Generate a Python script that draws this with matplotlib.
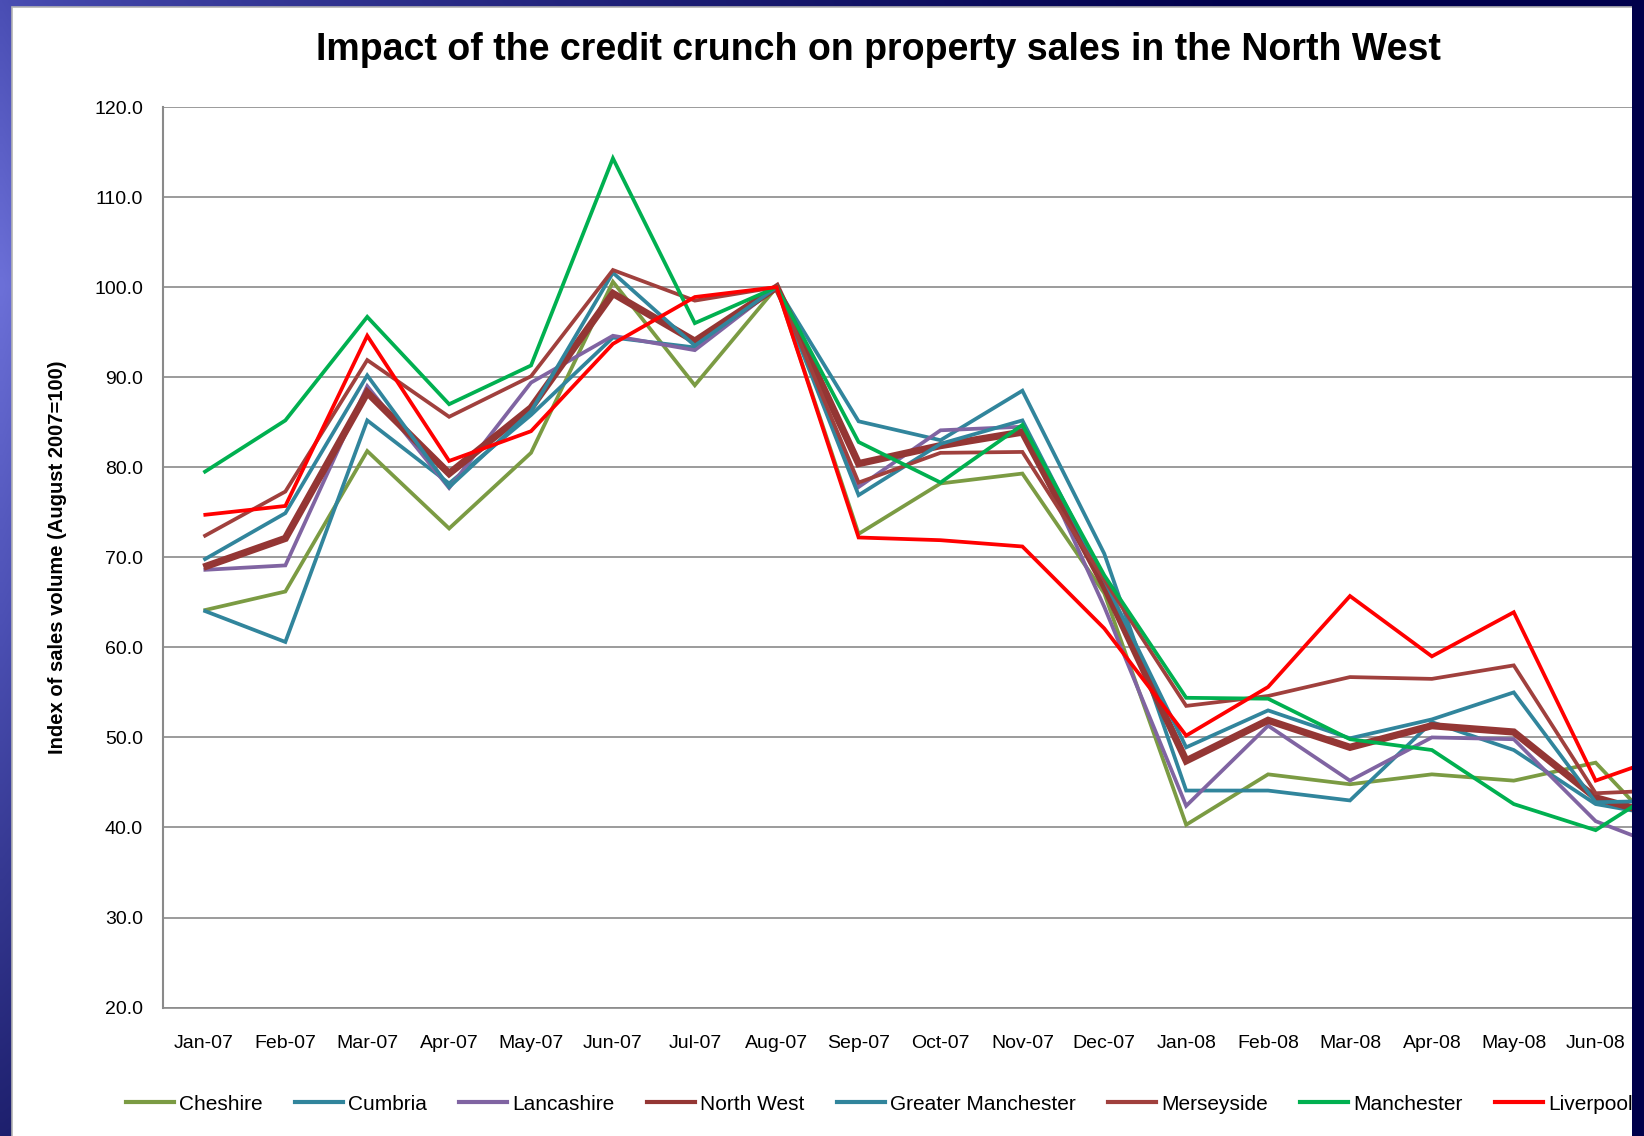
import numpy as np
import matplotlib
matplotlib.use("Agg")
import matplotlib.pyplot as plt
from matplotlib.patches import Rectangle
from matplotlib.lines import Line2D

plt.rcParams['font.family'] = ['Liberation Sans', 'DejaVu Sans']

# ---------------- data ----------------
months = ['Jan-07', 'Feb-07', 'Mar-07', 'Apr-07', 'May-07', 'Jun-07', 'Jul-07',
          'Aug-07', 'Sep-07', 'Oct-07', 'Nov-07', 'Dec-07', 'Jan-08', 'Feb-08',
          'Mar-08', 'Apr-08', 'May-08', 'Jun-08', 'Jul-08']
# the slide cuts the chart just after Jun-08, so only these labels are visible
visible_labels = months[:18]

cheshire = [64.1, 66.2, 81.8, 73.2, 81.6, 100.6, 89.1, 100.0, 72.6, 78.2, 79.3,
            66.0, 40.3, 45.9, 44.8, 45.9, 45.2, 47.2, 37.6]
cumbria = [64.1, 60.6, 85.2, 78.2, 85.8, 94.4, 93.3, 100.0, 85.1, 83.0, 88.5,
           70.4, 44.1, 44.1, 43.0, 51.7, 48.6, 42.6, 41.0]
lancashire = [68.6, 69.1, 89.0, 77.7, 89.4, 94.6, 93.0, 100.0, 77.8, 84.1, 84.5,
              64.5, 42.4, 51.3, 45.2, 50.0, 49.8, 40.7, 37.2]
north_west = [68.9, 72.1, 88.3, 79.3, 86.6, 99.3, 94.0, 100.0, 80.4, 82.4, 83.9,
              66.8, 47.4, 51.9, 48.9, 51.3, 50.6, 43.3, 40.8]
greater_manchester = [69.7, 74.9, 90.2, 77.8, 86.2, 101.6, 93.5, 100.0, 76.9, 82.6,
                      85.2, 67.5, 48.9, 53.0, 49.9, 52.0, 55.0, 42.8, 43.0]
merseyside = [72.3, 77.3, 91.9, 85.6, 90.1, 101.9, 98.5, 100.0, 78.3, 81.6, 81.7,
              67.5, 53.5, 54.6, 56.7, 56.5, 58.0, 43.8, 44.2]
manchester = [79.4, 85.2, 96.7, 87.0, 91.3, 114.3, 96.0, 100.0, 82.8, 78.3, 84.7,
              68.0, 54.4, 54.3, 49.8, 48.6, 42.6, 39.7, 45.5]
liverpool = [74.7, 75.7, 94.6, 80.7, 84.0, 93.7, 98.9, 100.0, 72.2, 71.9, 71.2,
             62.1, 50.2, 55.6, 65.7, 59.0, 63.9, 45.2, 48.4]

series_names = ['Cheshire', 'Cumbria', 'Lancashire', 'North West',
                'Greater Manchester', 'Merseyside', 'Manchester', 'Liverpool']
series_values = [cheshire, cumbria, lancashire, north_west,
                 greater_manchester, merseyside, manchester, liverpool]
series_colors = ['#7B9B43', '#31859C', '#8064A2', '#943634',
                 '#31859C', '#A0403D', '#00B050', '#FF0000']
series_widths = [2.7, 2.7, 2.7, 5.2, 2.7, 2.7, 2.7, 2.7]

yticks = [20, 30, 40, 50, 60, 70, 80, 90, 100, 110, 120]
title = 'Impact of the credit crunch on property sales in the North West'
ylabel = 'Index of sales volume (August 2007=100)'

# ---------------- figure ----------------
W, H = 1644, 1136
fig = plt.figure(figsize=(W / 100, H / 100), dpi=100)

# slide background gradient
bg = fig.add_axes([0, 0, 1, 1], zorder=-10)
bg.axis('off')
Hs, Ws = 228, 330
v = np.linspace(0, 1, Hs)[:, None]
u = np.linspace(0, 1, Ws)[None, :]
stops_v = [0.0, 0.25, 0.55, 1.0]
stops_c = np.array([[0x4a, 0x4e, 0xb4], [0x6c, 0x70, 0xd8],
                    [0x4c, 0x50, 0xb4], [0x1e, 0x20, 0x6e]]) / 255.0
left = np.stack([np.interp(v[:, 0], stops_v, stops_c[:, k]) for k in range(3)], axis=1)
navy = np.array([0x00, 0x00, 0x4c]) / 255.0
t = (np.clip(u / 0.75, 0, 1) ** 0.8)[..., None]
img = left[:, None, :] * (1 - t) + navy[None, None, :] * t
bg.imshow(img, extent=[0, W, H, 0], aspect='auto', interpolation='bilinear')
bg.set_xlim(0, W)
bg.set_ylim(H, 0)
bg.add_patch(Rectangle((12, 7), 1640, H, facecolor='white',
                       edgecolor='#b4b4b4', lw=1.2))

# main chart axes (extends beyond the visible slide edge on the right)
ax = fig.add_axes([162.5 / W, 1 - 1007.6 / H, 1556 / W, 900.6 / H])
ax.patch.set_visible(False)
x = np.arange(len(months))
for vals, col, lw in zip(series_values, series_colors, series_widths):
    ax.plot(x, vals, color=col, lw=lw, solid_joinstyle='miter',
            solid_capstyle='butt')

ax.set_xlim(-0.5, len(months) - 0.5)
ax.set_ylim(20, 120)
ax.set_yticks(yticks)
ax.set_yticklabels([f'{t:.1f}' for t in yticks])
ax.set_xticks(x[:len(visible_labels)])
ax.set_xticklabels(visible_labels)
ax.tick_params(axis='both', length=0, labelsize=14)
ax.tick_params(axis='x', pad=20)
ax.tick_params(axis='y', pad=14)
ax.yaxis.grid(True, color='#8a8a8a', lw=1.2)
ax.set_axisbelow(True)
for s in ['top', 'right']:
    ax.spines[s].set_visible(False)
ax.spines['left'].set_color('#8a8a8a')
ax.spines['left'].set_linewidth(1.5)
ax.spines['bottom'].set_color('#8a8a8a')
ax.spines['bottom'].set_linewidth(1.2)

# title and y label
fig.text(878.5 / W, 1 - 50 / H, title, ha='center', va='center',
         fontsize=27, fontweight='bold')
fig.text(57.7 / W, 1 - 557 / H, ylabel, rotation=90, ha='center', va='center',
         fontsize=14.5, fontweight='bold')

# legend
handles = [Line2D([], [], color=c, lw=3) for c in series_colors]
fig.legend(handles, series_names, loc='center left',
           bbox_to_anchor=(126 / W, 1 - 1104 / H), ncol=8, frameon=False,
           fontsize=15, handlelength=2.3, handletextpad=0.25,
           columnspacing=1.55, borderpad=0, borderaxespad=0)

# dark right edge of the slide
fig.add_artist(Rectangle((1632 / W, 0), 1 - 1632 / W + 0.01, 1,
                         transform=fig.transFigure, facecolor='#00004a',
                         edgecolor='none', zorder=20))

fig.savefig('out.png', dpi=100)
